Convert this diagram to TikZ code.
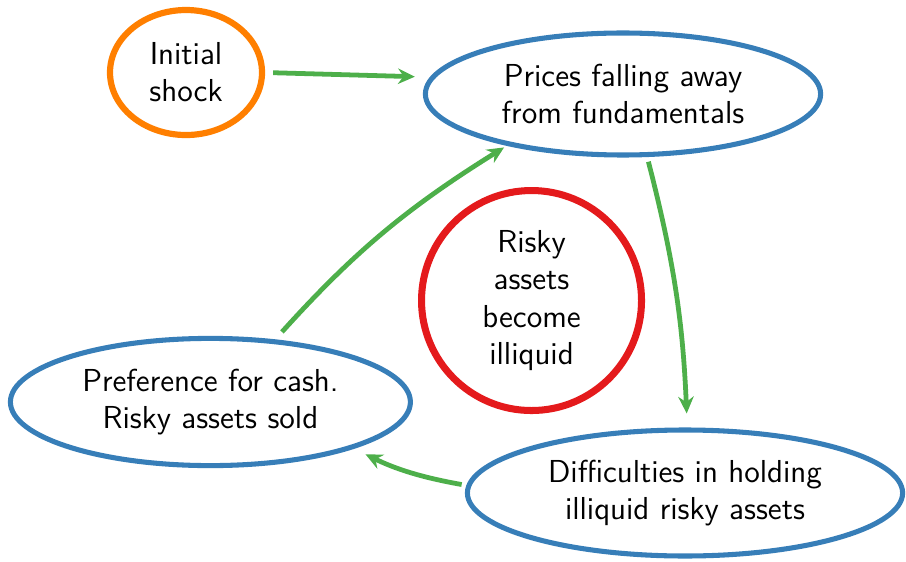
\documentclass[tikz,border=0pt]{standalone}
\usepackage{tikz}
\usetikzlibrary{shapes,positioning,arrows.meta}
\definecolor{setorange}{RGB}{255,127,0}
\definecolor{setred}{RGB}{228,26,28}
\definecolor{setblue}{RGB}{55,126,184}
\definecolor{setgreen}{RGB}{77,175,74}

\begin{document}
\begin{tikzpicture}[auto, font=\sffamily\fontsize{11.3}{13.2}\selectfont,
    bubble/.style={ellipse, line width=1.8pt, align=center, inner sep=0pt},
    flow/.style={-{Stealth[length=6pt,width=5.5pt,inset=2pt]}, line width=1.7pt, setgreen}]
    \useasboundingbox (0,0) rectangle (11.325,7.0125);
    \node[bubble, draw=setorange, line width=2.2pt, minimum width=1.9cm, minimum height=1.5625cm] (shock) at (2.325,6.106) {Initial\\shock};
    \node[bubble, draw=setblue, minimum width=4.94cm, minimum height=1.525cm] (prices) at (7.7875,5.8375) {Prices falling away\\from fundamentals};
    \node[bubble, circle, draw=setred, line width=2.5pt, minimum size=2.75cm] (illiquid) at (6.644,3.256) {Risky\\assets\\become\\illiquid};
    \node[bubble, draw=setblue, minimum width=5cm, minimum height=1.59cm] (cash) at (2.63,1.9875) {Preference for cash.\\Risky assets sold};
    \node[bubble, draw=setblue, minimum width=5.44cm, minimum height=1.575cm] (holding) at (8.5625,0.85) {Difficulties in holding\\illiquid risky assets};
    % the spiral
    \path[flow]
    (shock.east) edge[shorten <=0.1cm, shorten >=0.19cm] (prices.175)
    (prices.291) edge[bend left=6, shorten <=0.06cm, shorten >=0.175cm] (holding.88)
    (holding.178) edge[bend left=8, shorten <=0.06cm, shorten >=0.16cm] (cash.342)
    (cash.44) edge[bend left=8, shorten <=0.125cm, shorten >=0.04cm] (prices.204);
\end{tikzpicture}
\end{document}
